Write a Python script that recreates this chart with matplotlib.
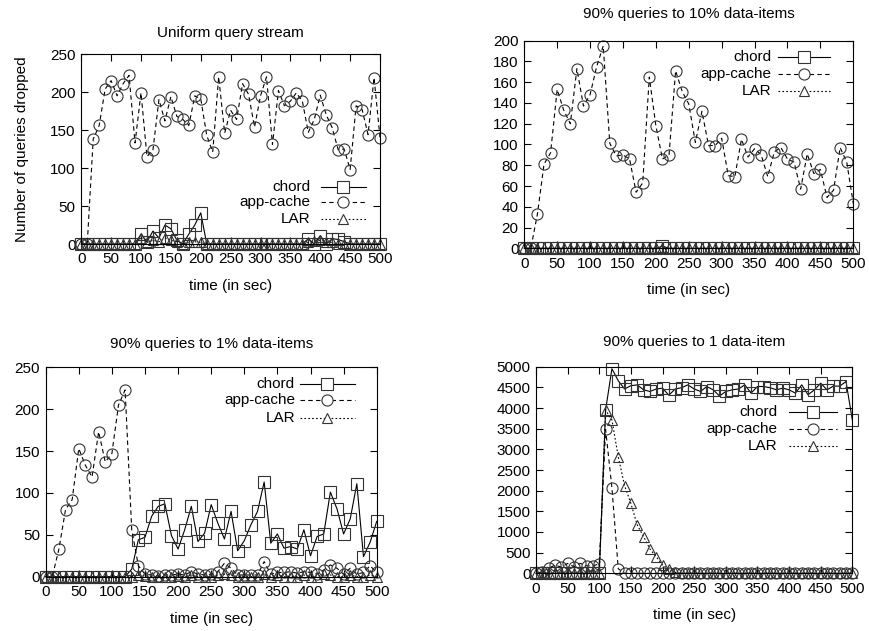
import numpy as np
import matplotlib
matplotlib.use("Agg")
import matplotlib.pyplot as plt

plt.rcParams['font.family'] = ['Liberation Sans', 'DejaVu Sans']
plt.rcParams['font.size'] = 11

# time axis (sec)
t = list(range(0, 501, 10))

# Uniform query stream
u_chord = [0, 0, 0, 0, 0, 0, 0, 0, 0, 0,
           13, 3, 17, 8, 25, 20, 5, 0, 13, 25,
           41, 0, 0, 0, 0, 0, 0, 0, 0, 0,
           0, 0, 0, 0, 0, 0, 0, 0, 7, 0,
           11, 0, 7, 6, 3, 0, 0, 0, 0, 0,
           0]
u_app = [0, 0, 138, 156, 204, 215, 195, 211, 222, 133,
         199, 115, 124, 190, 162, 194, 168, 164, 156, 195,
         191, 143, 121, 220, 146, 176, 164, 211, 197, 154,
         195, 220, 131, 202, 182, 188, 199, 188, 147, 164,
         196, 170, 153, 124, 125, 98, 182, 177, 144, 219,
         140]
u_lar = [0, 0, 0, 0, 0, 0, 0, 0, 0, 0,
         8, 2, 5, 3, 8, 5, 3, 0, 2, 3,
         2, 0, 0, 0, 0, 0, 0, 0, 0, 0,
         0, 0, 0, 0, 0, 0, 0, 0, 2, 4,
         5, 3, 2, 0, 0, 0, 0, 0, 0, 0,
         0]

# 90% queries to 10% data-items
h_chord = [0, 0, 0, 0, 0, 0, 0, 0, 0, 0,
           0, 0, 0, 0, 0, 0, 0, 0, 0, 0,
           0, 2, 0, 0, 0, 0, 0, 0, 0, 0,
           0, 0, 0, 0, 0, 0, 0, 0, 0, 0,
           0, 0, 0, 0, 0, 0, 0, 0, 0, 0,
           0]
h_app = [0, 0, 33, 81, 92, 153, 133, 120, 173, 137,
         148, 175, 195, 101, 89, 90, 86, 54, 63, 165,
         118, 86, 90, 171, 151, 139, 102, 132, 99, 99,
         106, 70, 69, 105, 88, 96, 90, 69, 93, 97,
         86, 83, 57, 91, 72, 76, 49, 56, 97, 83,
         43]
h_lar = [0, 0, 0, 0, 0, 0, 0, 0, 0, 0,
         0, 0, 0, 0, 0, 0, 0, 0, 0, 0,
         0, 0, 0, 0, 0, 0, 0, 0, 0, 0,
         0, 0, 0, 0, 0, 0, 0, 0, 0, 0,
         0, 0, 0, 0, 0, 0, 0, 0, 0, 0,
         0]

# 90% queries to 1% data-items
o_chord = [0, 0, 0, 0, 0, 0, 0, 0, 0, 0,
           0, 0, 0, 9, 44, 47, 72, 84, 87, 49,
           33, 56, 84, 42, 52, 86, 64, 45, 78, 31,
           43, 62, 78, 113, 40, 51, 34, 36, 33, 56,
           25, 48, 51, 101, 81, 51, 69, 111, 24, 41,
           66]
o_app = [0, 0, 33, 80, 92, 153, 133, 119, 173, 137,
         147, 205, 223, 56, 13, 3, 2, 1, 2, 2,
         3, 2, 6, 3, 2, 3, 6, 16, 10, 2,
         2, 2, 2, 18, 3, 5, 5, 6, 4, 6,
         5, 3, 8, 14, 10, 3, 10, 3, 5, 13,
         5]
o_lar = [0, 0, 0, 0, 0, 0, 0, 0, 0, 0,
         0, 0, 0, 0, 2, 1, 0, 0, 0, 0,
         1, 0, 2, 0, 0, 0, 2, 3, 2, 0,
         0, 0, 0, 3, 0, 2, 0, 0, 0, 2,
         0, 0, 3, 2, 0, 0, 2, 0, 0, 2,
         0]

# 90% queries to 1 data-item
s_chord = [0, 0, 0, 0, 0, 0, 0, 0, 0, 0,
           0, 3950, 4950, 4660, 4460, 4540, 4560, 4440, 4400, 4460,
           4480, 4310, 4460, 4490, 4560, 4460, 4400, 4520, 4440, 4290,
           4400, 4440, 4460, 4560, 4360, 4520, 4520, 4490, 4440, 4480,
           4440, 4360, 4560, 4320, 4440, 4600, 4440, 4530, 4530, 4640,
           3710]
s_app = [0, 40, 120, 200, 150, 240, 160, 240, 180, 180,
         230, 3480, 2070, 110, 0, 0, 0, 0, 0, 0,
         0, 0, 0, 0, 0, 0, 0, 0, 0, 0,
         0, 0, 0, 0, 0, 0, 0, 0, 0, 0,
         0, 0, 0, 0, 0, 0, 0, 0, 0, 0,
         0]
s_lar = [0, 0, 0, 0, 0, 0, 0, 0, 0, 0,
         0, 3950, 3710, 2820, 2120, 1690, 1170, 890, 590, 400,
         200, 97, 20, 0, 0, 0, 0, 0, 0, 0,
         0, 0, 0, 0, 0, 0, 0, 0, 0, 0,
         0, 0, 0, 0, 0, 0, 0, 0, 0, 0,
         0]

names = ["chord", "app-cache", "LAR"]
styles = [
    dict(marker='s', linestyle='-', markersize=8),
    dict(marker='o', linestyle=(0, (4, 3)), markersize=8),
    dict(marker='^', linestyle=(0, (1.5, 2)), markersize=7),
]

fig = plt.figure(figsize=(8.7, 6.31), dpi=100)

panels = [
    ("Uniform query stream", [0.0934, 0.6133, 0.3434, 0.301], 250, 50,
     [u_chord, u_app, u_lar], (0.766, 0.802, 0.952, [0.302, 0.223, 0.132]), 12),
    ("90% queries to 10% data-items", [0.6026, 0.6065, 0.3782, 0.329], 200, 20,
     [h_chord, h_app, h_lar], (0.752, 0.77, 0.93, [0.922, 0.839, 0.757]), 16),
    ("90% queries to 1% data-items", [0.0525, 0.0861, 0.3805, 0.3318], 250, 50,
     [o_chord, o_app, o_lar], (0.753, 0.768, 0.934, [0.921, 0.844, 0.757]), 14),
    ("90% queries to 1 data-item", [0.6161, 0.0914, 0.3636, 0.3275], 5000, 500,
     [s_chord, s_app, s_lar], (0.764, 0.80, 0.953, [0.779, 0.698, 0.616]), 15),
]

for i, (title, rect, ymax, ystep, series, leg, tpad) in enumerate(panels):
    ax = fig.add_axes(rect)
    for name, vals, st in zip(names, series, styles):
        ax.plot(t, vals, color='black', linewidth=0.8, markerfacecolor='none',
                markeredgecolor='#333333', markeredgewidth=0.8, clip_on=False,
                marker=st['marker'], linestyle=st['linestyle'],
                markersize=st['markersize'])
    ax.set_xlim(0, 500)
    ax.set_ylim(0, ymax)
    ax.set_xticks(range(0, 501, 50))
    ax.set_yticks(range(0, ymax + 1, ystep))
    ax.tick_params(direction='in', top=True, right=True, length=5, width=0.8,
                   labelsize=11)
    ax.tick_params(axis='x', pad=6)
    ax.tick_params(axis='y', pad=4)
    for sp in ax.spines.values():
        sp.set_linewidth(0.8)
    ax.set_title(title, fontsize=11, pad=tpad)
    ax.set_xlabel("time (in sec)", fontsize=11, labelpad=9)
    if i == 0:
        ax.set_ylabel("Number of queries dropped", fontsize=11, labelpad=15)

    # gnuplot style key: right aligned text, line sample with point
    tx, lx0, lx1, ys = leg
    for name, st, y in zip(names, styles, ys):
        ax.text(tx, y, name, transform=ax.transAxes, ha='right', va='center',
                fontsize=11)
        ax.plot([lx0, lx1], [y, y], transform=ax.transAxes, color='black',
                linewidth=0.8, linestyle=st['linestyle'], clip_on=False)
        ax.plot([(lx0 + lx1) / 2], [y], transform=ax.transAxes,
                marker=st['marker'], markersize=st['markersize'],
                markerfacecolor='white', markeredgecolor='#333333',
                markeredgewidth=0.8, linestyle='none', clip_on=False)

fig.savefig("out.png", dpi=100)
